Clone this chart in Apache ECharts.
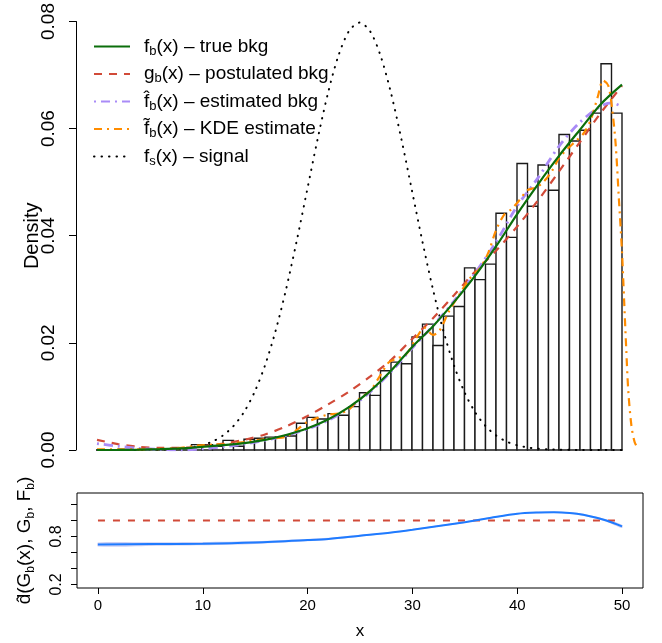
<!DOCTYPE html>
<html><head><meta charset="utf-8">
<script src="https://cdn.jsdelivr.net/npm/echarts@6.0.0/dist/echarts.min.js"></script>
<style>html,body{margin:0;padding:0;background:#fff}#c{width:662px;height:643px}</style>
</head><body><div id="c"></div>
<script>
// ---- histogram (bin width 1) ----
const binLeft = [0,1,2,3,4,5,6,7,8,9,10,11,12,13,14,15,16,17,18,19,20,21,22,23,24,25,26,27,28,29,30,31,32,33,34,35,36,37,38,39,40,41,42,43,44,45,46,47,48,49];
const binHeight = [0.0000,0.0000,0.0001,0.0000,0.0001,0.0001,0.0001,0.0003,0.0004,0.0010,
  0.0010,0.0007,0.0018,0.0007,0.0020,0.0022,0.0024,0.0025,0.0026,0.0050,
  0.0061,0.0058,0.0068,0.0065,0.0081,0.0107,0.0102,0.0148,0.0164,0.0161,
  0.0211,0.0235,0.0195,0.0250,0.0268,0.0340,0.0318,0.0347,0.0442,0.0397,
  0.0535,0.0455,0.0532,0.0485,0.0589,0.0577,0.0597,0.0629,0.0721,0.0629];
// ---- density curves ----
const curveX   = [0,2,4,6,8,10,12,14,16,18,20,22,24,26,28,30,32,34,36,38,40,42,44,46,48,50];
const trueBkg  = [0.0000,0.00001,0.00006,0.00015,0.0003,0.0006,0.0009,0.0013,0.0019,0.0028,0.0040,0.0057,0.0080,0.0110,0.0148,0.0192,0.0231,0.0276,0.0325,0.0380,0.0440,0.0496,0.0549,0.0598,0.0646,0.0682];
const postBkg  = [0.0019,0.0011,0.0006,0.0004,0.0004,0.0007,0.0012,0.0019,0.0029,0.0044,0.0063,0.0085,0.0109,0.0137,0.0168,0.0207,0.0246,0.0289,0.0333,0.0372,0.0417,0.0466,0.0520,0.0575,0.0630,0.0680];
const estX     = [0,2,4,6,8,10,12,14,16,18,20,22,24,26,28,30,32,34,36,38,40,42,44,46,48,49,50];
const estBkg   = [0.0012,0.0007,0.0003,0.0001,0.0000,0.0002,0.0006,0.0011,0.0018,0.0027,0.0039,0.0055,0.0078,0.0108,0.0146,0.0190,0.0232,0.0278,0.0330,0.0388,0.0455,0.0508,0.0567,0.0612,0.0642,0.0648,0.0641];
const kdeX = [0,2,4,6,8,9.5,11,12.5,14,15.5,17,18,19,20,21,22,23,24,25,26,27,27.8,28.5,29.5,30.5,31.2,32,32.6,33.5,34.5,35.5,36.5,37.3,38,38.8,39.5,40.3,41,41.8,42.5,43.3,44,44.7,45.5,46.3,47,47.7,48.2,48.7,49.1,49.4,49.7,50,50.2,50.4,50.6,50.9,51.2,51.5];
const kdeEst = [0.0001,0.0001,0.0001,0.0002,0.0004,0.0008,0.0010,0.0011,0.0015,0.0019,0.0022,0.0025,0.0037,0.0052,0.0060,0.0066,0.0068,0.0076,0.0096,0.0110,0.0140,0.0164,0.0170,0.0180,0.0212,0.0228,0.0215,0.0222,0.0258,0.0290,0.0320,0.0340,0.0370,0.0410,0.0440,0.0450,0.0468,0.0485,0.0490,0.0500,0.0520,0.0545,0.0560,0.0575,0.0590,0.0615,0.0660,0.0690,0.0680,0.0630,0.0570,0.0470,0.0370,0.0280,0.0190,0.0110,0.0045,0.0015,0.0003];
const sigX = [0,1,2,3,4,5,6,7,8,9,10,11,12,13,14,15,16,17,18,19,20,21,22,23,24,25,26,27,28,29,30,31,32,33,34,35,36,37,38,39,40,41,42,43,44,45,46,47,48,49,50];
const signal = [0,0,0,0,0.00001,0.00003,0.00006,0.00012,0.00025,0.00048,0.00089,0.00158,0.00272,0.00448,0.00709,0.0108,0.01579,0.02218,0.02995,0.03884,0.04839,0.05794,0.06664,0.07365,0.07821,0.07979,0.07821,0.07365,0.06664,0.05794,0.04839,0.03884,0.02995,0.02218,0.01579,0.0108,0.00709,0.00448,0.00272,0.00158,0.00089,0.00048,0.00025,0.00012,0.00006,0.00003,0.00001,0,0,0,0];
// ---- comparison density panel ----
const dX     = [0,5,10,15,20,22,25,28,30,33,35,37.5,40,42,43.5,45,46.3,48.5,50];
const dHat   = [0.700,0.705,0.710,0.725,0.755,0.770,0.810,0.850,0.884,0.940,0.979,1.034,1.084,1.100,1.104,1.095,1.071,1.000,0.926];
const dLow   = [0.675,0.682,0.690,0.707,0.740,0.757,0.798,0.840,0.874,0.930,0.970,1.025,1.075,1.090,1.094,1.084,1.058,0.985,0.906];
const dHigh  = [0.725,0.728,0.730,0.743,0.770,0.783,0.822,0.860,0.894,0.950,0.988,1.043,1.093,1.110,1.114,1.106,1.084,1.015,0.946];
const refX = [0,50];
const refD = [1,1];
const botXTicks = [0,10,20,30,40,50];
const botYTicks = [0.2,0.4,0.6,0.8,1.0,1.2];
const botYLabels = [0.2,0.8];

const legendText = {
  fb: '{sp|}{m|f}{s|b}{m|(x) \u2013 true bkg}',
  gb: '{sp|}{m|g}{s|b}{m|(x) \u2013 postulated bkg}',
  fh: '{sp|}{m|f\u0302}{s|b}{m|(x) \u2013 estimated bkg}',
  ft: '{sp|}{m|f\u0303}{s|b}{m|(x) \u2013 KDE estimate}',
  fs: '{sp|}{m|f}{s|s}{m|(x) \u2013 signal}'
};
const pairs = (xs, ys) => xs.map((x, i) => [x, ys[i]]);
const FONT = 'Liberation Sans';

const chart = echarts.init(document.getElementById('c'), null, {renderer: 'canvas'});
chart.setOption({
  animation: false,
  textStyle: {fontFamily: FONT, color: '#000'},
  grid: [
    {left: 76, right: 19, top: 20, height: 430, show: false},
    {left: 77, right: 19, top: 493, height: 95, show: true, borderColor: '#000', borderWidth: 1}
  ],
  xAxis: [
    {gridIndex: 0, type: 'value', min: -2, max: 52, show: false},
    {gridIndex: 1, type: 'value', min: -2, max: 52,
     axisLine: {show: false, onZero: false}, splitLine: {show: false},
     axisTick: {show: true, length: 6, lineStyle: {color: '#000'}, customValues: botXTicks},
     axisLabel: {customValues: botXTicks, fontSize: 15, color: '#000', margin: 10, fontFamily: FONT},
     name: 'x', nameLocation: 'middle', nameGap: 35, nameMoveOverlap: false,
     nameTextStyle: {fontSize: 17, color: '#000', fontFamily: FONT}}
  ],
  yAxis: [
    {gridIndex: 0, type: 'value', min: 0, max: 0.08, interval: 0.02,
     axisLine: {show: true, onZero: false, lineStyle: {color: '#000', width: 1}},
     axisTick: {show: true, length: 7, lineStyle: {color: '#000'}},
     splitLine: {show: false},
     axisLabel: {rotate: 90, fontSize: 19, color: '#000', margin: 18, fontFamily: FONT,
       formatter: v => v.toFixed(2)},
     name: 'Density', nameLocation: 'middle', nameGap: 34, nameRotate: 90, nameMoveOverlap: false,
     nameTextStyle: {fontSize: 20, color: '#000', fontFamily: FONT}},
    {gridIndex: 1, type: 'value', min: 0.156, max: 1.344,
     axisLine: {show: false, onZero: false}, splitLine: {show: false},
     axisTick: {show: true, length: 6, lineStyle: {color: '#000'}, customValues: botYTicks},
     axisLabel: {rotate: 90, customValues: botYLabels, fontSize: 16, color: '#000', margin: 12, fontFamily: FONT,
       formatter: v => v.toFixed(1)},
     name: '{m|d\u0302(G}{s|b}{m|(x), G}{s|b}{m|, F}{s|b}{m|)}', nameLocation: 'middle', nameGap: 40, nameRotate: 90,
     nameMoveOverlap: false,
     nameTextStyle: {fontFamily: FONT, rich: {
       m: {fontSize: 19, lineHeight: 24, fontFamily: FONT, color: '#000'},
       s: {fontSize: 12, lineHeight: 12, verticalAlign: 'bottom', fontFamily: FONT, color: '#000'}}}}
  ],
  legend: {
    orient: 'vertical', left: 88, top: 32, itemWidth: 36, itemHeight: 14, itemGap: 7,
    data: ['fb','gb','fh','ft','fs'],
    formatter: n => legendText[n],
    itemStyle: {opacity: 0},
    textStyle: {fontFamily: FONT, rich: {
      sp: {width: 9},
      m: {fontSize: 19, lineHeight: 22, fontFamily: FONT, color: '#000'},
      s: {fontSize: 13, lineHeight: 12, verticalAlign: 'bottom', fontFamily: FONT, color: '#000'}}}
  },
  series: [
    {type: 'custom', name: 'hist', xAxisIndex: 0, yAxisIndex: 0, z: 1,
     data: binLeft.map((b, i) => [b, b + 1, binHeight[i]]),
     renderItem: (params, api) => {
       const p0 = api.coord([api.value(0), api.value(2)]);
       const p1 = api.coord([api.value(1), 0]);
       return {type: 'rect', shape: {x: p0[0], y: p0[1], width: p1[0] - p0[0], height: p1[1] - p0[1]},
         style: {fill: '#fff', stroke: '#1a1a1a', lineWidth: 1.4}};
     }},
    {type: 'line', name: 'fs', xAxisIndex: 0, yAxisIndex: 0, z: 2, data: pairs(sigX, signal),
     showSymbol: false, symbol: 'none', smooth: 0.3, color: '#000',
     lineStyle: {color: '#000', width: 2, type: [0.5, 7], cap: 'round'}},
    {type: 'line', name: 'gb', xAxisIndex: 0, yAxisIndex: 0, z: 3, data: pairs(curveX, postBkg),
     showSymbol: false, symbol: 'none', smooth: 0.3, color: '#d14a38',
     lineStyle: {color: '#d14a38', width: 2.2, type: [8, 7]}},
    {type: 'line', name: 'fh', xAxisIndex: 0, yAxisIndex: 0, z: 4, data: pairs(estX, estBkg),
     showSymbol: false, symbol: 'none', smooth: 0.3, color: '#a98bf7',
     lineStyle: {color: '#a98bf7', width: 2.8, type: [2, 5, 9, 5]}},
    {type: 'line', name: 'ft', xAxisIndex: 0, yAxisIndex: 0, z: 5, data: pairs(kdeX, kdeEst),
     showSymbol: false, symbol: 'none', smooth: 0.3, color: '#ff8c00',
     lineStyle: {color: '#ff8c00', width: 2.2, type: [8, 5, 2, 5]}},
    {type: 'line', name: 'fb', xAxisIndex: 0, yAxisIndex: 0, z: 6, data: pairs(curveX, trueBkg),
     showSymbol: false, symbol: 'none', smooth: 0.3, color: '#0b6e0b',
     lineStyle: {color: '#0b6e0b', width: 2.2}},
    // bottom panel: confidence band as polygon from dLow / dHigh
    {type: 'custom', name: 'band', xAxisIndex: 1, yAxisIndex: 1, z: 1,
     data: [[0]],
     renderItem: (params, api) => {
       const up = dX.map((x, i) => api.coord([x, dHigh[i]]));
       const lo = dX.map((x, i) => api.coord([x, dLow[i]])).reverse();
       return {type: 'polygon', shape: {points: up.concat(lo), smooth: 0.3},
         style: {fill: '#cdd0f3', stroke: null}};
     }},
    {type: 'line', name: 'dref', xAxisIndex: 1, yAxisIndex: 1, z: 3, data: pairs(refX, refD),
     showSymbol: false, symbol: 'none', lineStyle: {color: '#d14a38', width: 2, type: [7, 8]}},
    {type: 'line', name: 'dhat', xAxisIndex: 1, yAxisIndex: 1, z: 4, data: pairs(dX, dHat),
     showSymbol: false, symbol: 'none', smooth: 0.3, lineStyle: {color: '#1f7bff', width: 2}}
  ]
});
</script></body></html>
